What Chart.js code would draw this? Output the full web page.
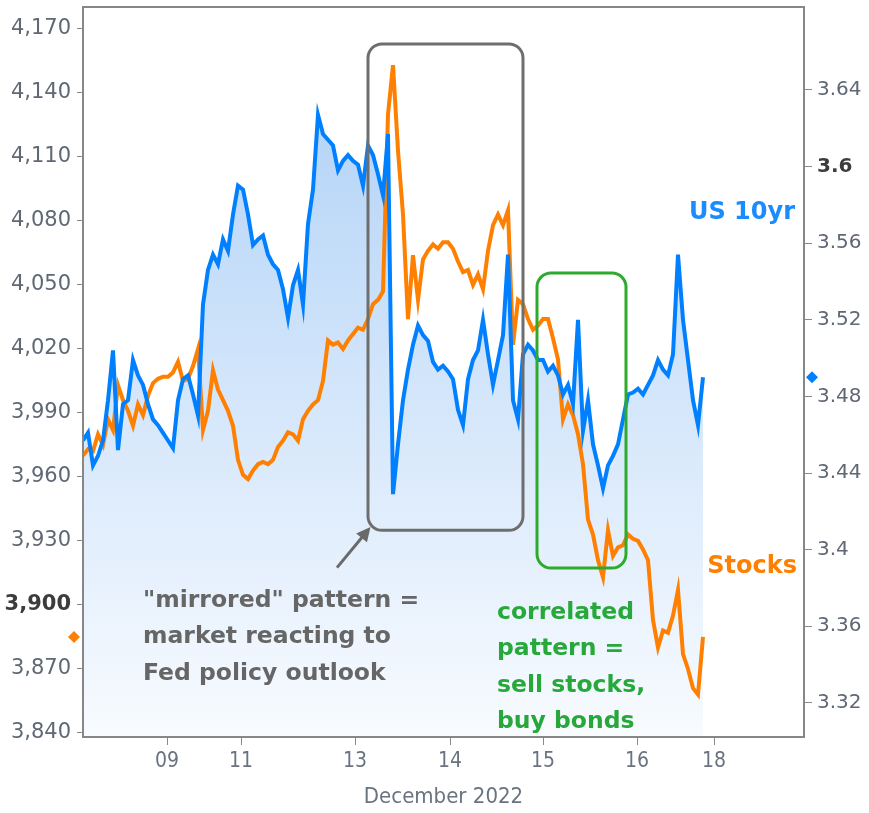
<!DOCTYPE html>
<html><head><meta charset="utf-8">
<script src="https://cdn.jsdelivr.net/npm/chart.js@4.4.0/dist/chart.umd.min.js"></script>
<style>html,body{margin:0;padding:0;background:#fff}#wrap{width:869px;height:813px;position:relative}</style>
</head><body><div id="wrap"><canvas id="c"></canvas></div>
<script>
// ---- data ----
const xTickPos = [16.8, 31.6, 54.4, 73.4, 92, 110.8, 126.2];
const xTickLabels = ['09', '11', '13', '14', '15', '16', '18'];
const stockTicks = [3840, 3870, 3900, 3930, 3960, 3990, 4020, 4050, 4080, 4110, 4140, 4170];
const yieldTicks = [3.32, 3.36, 3.40, 3.44, 3.48, 3.52, 3.56, 3.60, 3.64];
const us10yr = [
  3.457, 3.461, 3.444, 3.449, 3.457, 3.478, 3.504, 3.452, 3.476, 3.478,
  3.499, 3.491, 3.486, 3.476, 3.468, 3.465, 3.461, 3.457, 3.453, 3.478,
  3.489, 3.491, 3.481, 3.470, 3.528, 3.546, 3.554, 3.549, 3.562, 3.556,
  3.575, 3.590, 3.588, 3.575, 3.559, 3.562, 3.564, 3.554, 3.549, 3.546,
  3.536, 3.521, 3.538, 3.546, 3.528, 3.570, 3.588, 3.627, 3.617, 3.614,
  3.611, 3.598, 3.603, 3.606, 3.603, 3.601, 3.590, 3.611, 3.606, 3.596,
  3.585, 3.617, 3.429, 3.455, 3.478, 3.494, 3.507, 3.517, 3.512, 3.509,
  3.498, 3.494, 3.496, 3.493, 3.489, 3.473, 3.465, 3.489, 3.499, 3.504,
  3.520, 3.502, 3.486, 3.499, 3.512, 3.554, 3.478, 3.468, 3.502, 3.507,
  3.504, 3.499, 3.499, 3.493, 3.496, 3.491, 3.481, 3.486, 3.476, 3.520,
  3.462, 3.478, 3.455, 3.444, 3.432, 3.444, 3.449, 3.455, 3.468, 3.481,
  3.482, 3.484, 3.481, 3.486, 3.491, 3.499, 3.494, 3.491, 3.502, 3.554,
  3.520, 3.499, 3.478, 3.465, 3.490
];
const stocks = [
  3970, 3973, 3972, 3980, 3975, 3987, 3982, 4003, 3996, 3991,
  3984, 3994, 3989, 3998, 4004, 4006, 4007, 4007, 4009, 4014,
  4005, 4006, 4012, 4020, 3982, 3991, 4010, 4001, 3996, 3991,
  3984, 3968, 3961, 3959, 3963, 3966, 3967, 3966, 3968, 3974,
  3977, 3981, 3980, 3977, 3987, 3991, 3994, 3996, 4005, 4024,
  4022, 4023, 4020, 4024, 4027, 4030, 4029, 4034, 4041, 4043,
  4047, 4130, 4153, 4113, 4083, 4034, 4064, 4043, 4062, 4066,
  4069, 4067, 4070, 4070, 4067, 4061, 4056, 4057, 4050, 4055,
  4048, 4066, 4078, 4083, 4078, 4085, 4022, 4043, 4041, 4034,
  4029, 4031, 4034, 4034, 4025, 4015, 3987, 3994, 3989, 3980,
  3966, 3940, 3933, 3921, 3913, 3935, 3923, 3927, 3928, 3933,
  3931, 3930, 3926, 3921, 3893, 3880, 3888, 3887, 3895, 3907,
  3877, 3870, 3861, 3858, 3885
];

// ---- annotation placement (in axis units) ----
const mirrorBox = { x0: 57, x1: 88, lo: 3935, hi: 4163 };
const corrBox = { x0: 90.8, x1: 108.6, lo: 3917.3, hi: 4055.6 };
const arrow = { x0: 50.8, v0: 3917.5, x1: 57.5, v1: 3936.5 };
const mirrorText = { x: 12, v: 3902, lines: ['"mirrored" pattern =', 'market reacting to', 'Fed policy outlook'] };
const corrText = { x: 82.8, v: 3896.3, lines: ['correlated', 'pattern =', 'sell stocks,', 'buy bonds'] };
const usLabel = { x: 142.4, v: 4083.7, text: 'US 10yr' };
const stockLabel = { x: 142.8, v: 3917.8, text: 'Stocks' };

const BLUE = 'rgb(0,128,255)';
const ORANGE = 'rgb(255,128,0)';
const GRAYTXT = '#5f6874';
const FONT = "'DejaVu Sans', sans-serif";
const CFONT = "'DejaVu Sans Condensed', 'Liberation Sans Narrow', 'DejaVu Sans', sans-serif";

const notes = {
  id: 'notes',
  afterDatasetsDraw(chart) {
    const { ctx, chartArea: a, scales: { x, y } } = chart;
    ctx.save();
    ctx.strokeStyle = '#878787'; ctx.lineWidth = 2;
    ctx.strokeRect(a.left, a.top, a.right - a.left, a.bottom - a.top);
    const box = (b, color) => {
      const l = x.getPixelForValue(b.x0), r = x.getPixelForValue(b.x1);
      const t = y.getPixelForValue(b.hi), bt = y.getPixelForValue(b.lo);
      ctx.beginPath(); ctx.roundRect(l, t, r - l, bt - t, 14);
      ctx.strokeStyle = color; ctx.lineWidth = 3; ctx.stroke();
    };
    box(mirrorBox, '#6e6e6e');
    box(corrBox, '#2eaa2e');
    const ax0 = x.getPixelForValue(arrow.x0), ay0 = y.getPixelForValue(arrow.v0);
    const ax1 = x.getPixelForValue(arrow.x1), ay1 = y.getPixelForValue(arrow.v1);
    const ang = Math.atan2(ay1 - ay0, ax1 - ax0);
    ctx.strokeStyle = '#6a6a6a'; ctx.fillStyle = '#6a6a6a'; ctx.lineWidth = 3;
    ctx.beginPath(); ctx.moveTo(ax0, ay0);
    ctx.lineTo(ax1 - 10 * Math.cos(ang), ay1 - 10 * Math.sin(ang)); ctx.stroke();
    ctx.beginPath(); ctx.moveTo(ax1, ay1);
    ctx.lineTo(ax1 - 14 * Math.cos(ang) + 7 * Math.sin(ang), ay1 - 14 * Math.sin(ang) - 7 * Math.cos(ang));
    ctx.lineTo(ax1 - 14 * Math.cos(ang) - 7 * Math.sin(ang), ay1 - 14 * Math.sin(ang) + 7 * Math.cos(ang));
    ctx.closePath(); ctx.fill();
    ctx.textBaseline = 'middle';
    const block = (t, color) => {
      ctx.font = "bold 23.5px " + FONT; ctx.fillStyle = color; ctx.textAlign = 'left';
      const px = x.getPixelForValue(t.x), py = y.getPixelForValue(t.v);
      t.lines.forEach((s, i) => ctx.fillText(s, px, py + i * 36.5));
    };
    block(mirrorText, '#666666');
    block(corrText, '#26a83a');
    ctx.font = "bold 24px " + FONT; ctx.textAlign = 'right';
    ctx.fillStyle = '#1a8cff';
    ctx.fillText(usLabel.text, x.getPixelForValue(usLabel.x), y.getPixelForValue(usLabel.v));
    ctx.fillStyle = ORANGE;
    ctx.fillText(stockLabel.text, x.getPixelForValue(stockLabel.x), y.getPixelForValue(stockLabel.v));
    ctx.restore();
  },
  afterDraw(chart) {
    const { ctx, chartArea: a, scales: { y, y1 } } = chart;
    const diamond = (cx, cy, color) => {
      ctx.beginPath(); ctx.moveTo(cx, cy - 6); ctx.lineTo(cx + 6, cy); ctx.lineTo(cx, cy + 6); ctx.lineTo(cx - 6, cy);
      ctx.closePath(); ctx.fillStyle = color; ctx.fill();
    };
    ctx.save();
    diamond(a.left - 9, y.getPixelForValue(stocks[stocks.length - 1]), ORANGE);
    diamond(a.right + 8, y1.getPixelForValue(us10yr[us10yr.length - 1]), BLUE);
    ctx.restore();
  }
};

new Chart(document.getElementById('c'), {
  type: 'line',
  data: {
    datasets: [
      {
        label: 'US 10yr', yAxisID: 'y1',
        data: us10yr.map((v, i) => ({ x: i, y: v })),
        borderColor: BLUE, borderWidth: 4, pointRadius: 0, tension: 0,
        borderJoinStyle: 'miter',
        fill: 'start',
        backgroundColor: (c) => {
          const a = c.chart.chartArea; if (!a) return 'rgba(0,0,0,0)';
          const g = c.chart.ctx.createLinearGradient(0, a.top, 0, a.bottom);
          g.addColorStop(0, 'rgb(170,206,246)');
          g.addColorStop(1, 'rgb(248,251,255)');
          return g;
        }
      },
      {
        label: 'Stocks', yAxisID: 'y',
        data: stocks.map((v, i) => ({ x: i, y: v })),
        borderColor: ORANGE, borderWidth: 4, pointRadius: 0, tension: 0, fill: false,
        borderJoinStyle: 'miter'
      }
    ]
  },
  options: {
    responsive: true, maintainAspectRatio: false, animation: false,
    layout: { padding: { top: 7, left: 0, right: 0, bottom: 0 } },
    plugins: { legend: { display: false }, tooltip: { enabled: false }, filler: { drawTime: 'beforeDatasetsDraw' } },
    scales: {
      x: {
        type: 'linear', min: 0, max: 144.2,
        afterBuildTicks: s => { s.ticks = xTickPos.map(v => ({ value: v })); },
        afterFit: s => { s.height = 76; s.paddingLeft = 0; s.paddingRight = 0; },
        grid: { drawOnChartArea: false, drawTicks: true, tickLength: 8, color: '#8a8a8a' },
        border: { display: false },
        ticks: { autoSkip: false, maxRotation: 0, padding: 4, color: '#6a7380', font: { family: CFONT, size: 21 },
                 callback: (v, i) => xTickLabels[i] },
        title: { display: true, text: 'December 2022', color: '#6a7380', font: { family: CFONT, size: 22 }, padding: { top: 0, bottom: 3 } }
      },
      y: {
        position: 'left', min: 3838.1, max: 4180.3,
        afterBuildTicks: s => { s.ticks = stockTicks.map(v => ({ value: v })); },
        afterFit: s => { s.width = 83; s.paddingTop = 0; s.paddingBottom = 0; },
        grid: { drawOnChartArea: false, drawTicks: true, tickLength: 6, color: '#8a8a8a' },
        border: { display: false },
        ticks: { padding: 6, font: (c) => ({ family: FONT, size: 21, weight: c.tick && c.tick.value === 3900 ? 'bold' : 'normal' }),
                 color: (c) => c.tick && c.tick.value === 3900 ? '#3c3c3c' : GRAYTXT,
                 callback: v => v.toLocaleString('en-US') }
      },
      y1: {
        position: 'right', min: 3.3022, max: 3.6833,
        afterBuildTicks: s => { s.ticks = yieldTicks.map(v => ({ value: v })); },
        afterFit: s => { s.width = 65; s.paddingTop = 0; s.paddingBottom = 0; },
        grid: { drawOnChartArea: false, drawTicks: true, tickLength: 8, color: '#8a8a8a' },
        border: { display: false },
        ticks: { padding: 5, font: (c) => ({ family: FONT, size: 20, weight: c.tick && Math.abs(c.tick.value - 3.6) < 1e-9 ? 'bold' : 'normal' }),
                 color: (c) => c.tick && Math.abs(c.tick.value - 3.6) < 1e-9 ? '#3c3c3c' : GRAYTXT,
                 callback: v => String(+v.toFixed(2)) }
      }
    }
  },
  plugins: [notes]
});
</script>
</body></html>
